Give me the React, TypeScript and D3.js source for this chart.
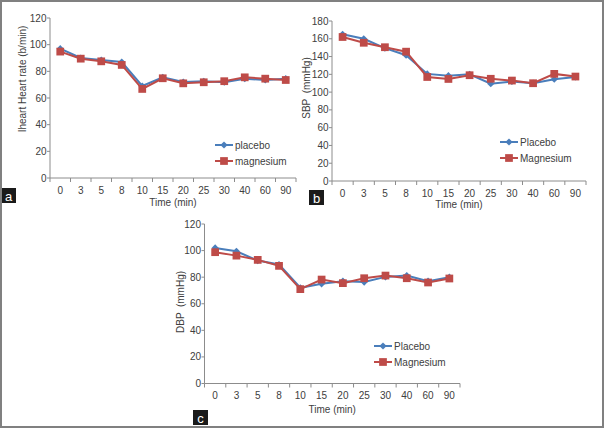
import React from 'react';
import * as d3 from 'd3';

const width = 605;
const height = 429;

const times = ['0', '3', '5', '8', '10', '15', '20', '25', '30', '40', '60', '90'];

// panel a: heart rate
const hrPlacebo = [97, 90, 88.5, 87, 69, 75.5, 72, 72.5, 71.8, 74.5, 73.5, 74.5];
const hrMagnesium = [94.8, 89.5, 87.5, 84.8, 66.8, 74.8, 71, 71.8, 72.6, 75.5, 74.5, 73.5];

// panel b: SBP
const sbpPlacebo = [165, 160, 149.5, 141.5, 120.5, 118.5, 120, 109.5, 112, 110, 114.5, 117];
const sbpMagnesium = [162, 155.5, 150.5, 145.5, 117, 114.8, 119, 115, 113, 110, 120.5, 117.5];

// panel c: DBP
const dbpPlacebo = [102, 99.5, 92.5, 89.5, 72, 75, 77, 76.3, 80.2, 81.2, 77, 80];
const dbpMagnesium = [98.8, 96.2, 93, 88.5, 71, 78.2, 75.5, 79.2, 81.2, 79.2, 76, 79];

const blue = '#4a7ebb';
const red = '#be4b48';
const axisColor = '#8c8c8c';
const textColor = '#404040';
const font = 'Liberation Sans, Arial, sans-serif';

type PanelProps = {
  left: number;
  right: number;
  top: number;
  bottom: number;
  yMax: number;
  placebo: number[];
  magnesium: number[];
  yLabel: string;
  yLabelX: number;
  yLabelY: number;
  legendX: number;
  legendY: number;
  names: [string, string];
  titleOffset: number;
};

// excel-style diamond = small square turned 45deg
const diamond = d3.symbol().type(d3.symbolSquare).size(26);
const square = d3.symbol().type(d3.symbolSquare).size(60);

const Panel = (p: PanelProps) => {
  const x = d3.scaleBand().domain(times).range([p.left, p.right]);
  const y = d3.scaleLinear().domain([0, p.yMax]).range([p.bottom, p.top]);
  const cx = (t: string) => (x(t) as number) + x.bandwidth() / 2;
  const line = d3.line<number>().x((d, i) => cx(times[i])).y(d => y(d));
  const yTicks = d3.range(0, p.yMax + 1, 20);
  const bounds = times.map(t => x(t) as number).concat([p.right]);

  return (
    <g fontFamily={font} fontSize={10} fill={textColor}>
      <line x1={p.left} x2={p.left} y1={p.top} y2={p.bottom} stroke={axisColor} />
      <line x1={p.left} x2={p.right} y1={p.bottom} y2={p.bottom} stroke={axisColor} />
      {yTicks.map(v => (
        <g key={v}>
          <line x1={p.left - 3} x2={p.left} y1={y(v)} y2={y(v)} stroke={axisColor} />
          <text x={p.left - 3.5} y={y(v)} dy="0.35em" textAnchor="end">{v}</text>
        </g>
      ))}
      {bounds.map((b, i) => (
        <line key={i} x1={b} x2={b} y1={p.bottom} y2={p.bottom + 4} stroke={axisColor} />
      ))}
      {times.map(t => (
        <text key={t} x={cx(t)} y={p.bottom + 12} dy="0.35em" textAnchor="middle">{t}</text>
      ))}
      <text x={(p.left + p.right) / 2} y={p.bottom + p.titleOffset} dy="0.35em" textAnchor="middle">
        Time (min)
      </text>
      <text
        transform={`translate(${p.yLabelX},${p.yLabelY}) rotate(-90)`}
        dy="0.35em"
        textAnchor="middle"
        style={{ whiteSpace: 'pre' }}
      >
        {p.yLabel}
      </text>

      <path d={line(p.placebo) as string} fill="none" stroke={blue} strokeWidth={2} />
      {p.placebo.map((v, i) => (
        <path key={i} d={diamond() as string} transform={`translate(${cx(times[i])},${y(v)}) rotate(45)`} fill={blue} />
      ))}
      <path d={line(p.magnesium) as string} fill="none" stroke={red} strokeWidth={2} />
      {p.magnesium.map((v, i) => (
        <path key={i} d={square() as string} transform={`translate(${cx(times[i])},${y(v)})`} fill={red} />
      ))}

      <g transform={`translate(${p.legendX},${p.legendY})`}>
        <line x1={0} x2={18} y1={0} y2={0} stroke={blue} strokeWidth={2} />
        <path d={diamond() as string} transform="translate(9,0) rotate(45)" fill={blue} />
        <text x={20} y={0} dy="0.35em">{p.names[0]}</text>
        <line x1={0} x2={18} y1={16} y2={16} stroke={red} strokeWidth={2} />
        <path d={square() as string} transform="translate(9,16)" fill={red} />
        <text x={20} y={16} dy="0.35em">{p.names[1]}</text>
      </g>
    </g>
  );
};

const Tag = ({ x, y, label }: { x: number; y: number; label: string }) => (
  <g>
    <rect x={x} y={y} width={15} height={15} fill="#1a1a1a" />
    <text x={x + 7.5} y={y + 8} dy="0.35em" textAnchor="middle" fill="white" fontFamily={font} fontSize={13}>
      {label}
    </text>
  </g>
);

const App = () => (
  <svg width={width} height={height} style={{ position: 'absolute', left: 0, top: 0, background: 'white' }}>
    <rect x={0} y={0} width={width} height={height} fill="white" />
    <Panel
      left={50} right={296} top={18} bottom={178} yMax={120}
      placebo={hrPlacebo} magnesium={hrMagnesium}
      yLabel="Iheart Heart rate (b/min)" yLabelX={22} yLabelY={79}
      legendX={215} legendY={145} names={['placebo', 'magnesium']} titleOffset={24}
    />
    <Panel
      left={332} right={586} top={21} bottom={181} yMax={180}
      placebo={sbpPlacebo} magnesium={sbpMagnesium}
      yLabel="SBP  (mmHg)" yLabelX={306} yLabelY={88}
      legendX={500} legendY={142} names={['Placebo', 'Magnesium']} titleOffset={23}
    />
    <Panel
      left={204.5} right={460} top={224} bottom={383.5} yMax={120}
      placebo={dbpPlacebo} magnesium={dbpMagnesium}
      yLabel="DBP  (mmHg)" yLabelX={180} yLabelY={302}
      legendX={374} legendY={346} names={['Placebo', 'Magnesium']} titleOffset={26}
    />
    <Tag x={1} y={188} label="a" />
    <Tag x={309} y={190} label="b" />
    <Tag x={193} y={410} label="c" />
    <rect x={1} y={1} width={602} height={426} fill="none" stroke="#808080" strokeWidth={2} />
  </svg>
);

export default App;
